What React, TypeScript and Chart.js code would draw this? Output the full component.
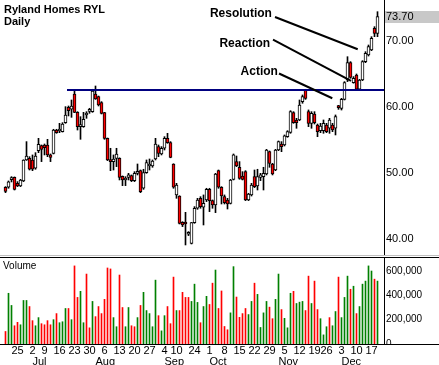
import React, { useEffect, useRef } from 'react';
import { Chart, registerables } from 'chart.js';

Chart.register(...registerables);

// ---- Ryland Homes (RYL) daily, Jun 19 – Dec 19 ----
const openPrices = [
  47.83, 47.83, 48.99, 49.34, 48.43, 48.03, 48.79, 51.97, 52.22, 51.97,
  50.71, 53.38, 54.14, 54.24, 54.24, 52.73, 52.98, 56.51, 56.36, 56.26,
  57.62, 59.95, 59.65, 61.97, 59.19, 57.02, 57.02, 58.79, 59.34, 59.29,
  61.97, 61.56, 60.66, 59.14, 55.25, 51.87, 51.72, 52.22, 52.22, 49.49,
  48.94, 49.34, 49.6, 48.84, 49.95, 50.35, 47.68, 50.05, 51.06, 51.06,
  52.12, 53.99, 52.88, 53.74, 55.25, 54.6, 51.36, 46.67, 46.51, 42.52,
  42.47, 40.71, 39.34, 42.47, 44.65, 46.16, 44.8, 45.91, 47.52, 45.81,
  45.15, 50.35, 47.83, 46.41, 45.91, 45.4, 49.04, 51.72, 50.86, 49.54,
  50.2, 45.91, 46.67, 49.44, 48.03, 49.34, 49.44, 49.85, 53.23, 51.36,
  50.45, 53.48, 54.39, 54.24, 55.5, 56.16, 59.14, 58.03, 58.03, 60.81,
  62.58, 59.29, 57.52, 58.94, 57.27, 56.41, 56.41, 57.27, 56.77, 57.27,
  56.77, 60.15, 59.8, 61.16, 64.09, 66.71, 63.68, 64.85, 62.68, 64.09,
  66.87, 67.88, 68.63, 71.92, 71.16,
];
const highPrices = [
  47.93, 48.79, 49.44, 49.4, 48.69, 49.04, 52.0, 54.75, 52.47, 52.73,
  53.08, 55.25, 54.24, 54.39, 55.1, 52.88, 56.62, 56.62, 57.52, 57.62,
  60.05, 60.15, 61.06, 62.58, 59.29, 58.53, 59.19, 59.29, 59.8, 62.68,
  63.18, 61.66, 60.81, 59.19, 55.3, 53.74, 52.73, 53.74, 52.3, 49.55,
  49.44, 49.95, 49.7, 50.2, 51.36, 50.45, 50.56, 51.97, 52.12, 51.97,
  55.25, 54.24, 53.99, 55.5, 56.01, 54.75, 51.4, 48.43, 46.55, 42.62,
  44.04, 41.11, 42.5, 44.9, 46.16, 46.41, 46.67, 47.68, 47.68, 45.91,
  49.95, 50.45, 47.93, 46.67, 46.16, 49.04, 52.88, 52.57, 51.72, 50.2,
  50.35, 46.92, 48.43, 50.45, 50.56, 49.95, 50.86, 53.58, 53.33, 51.46,
  53.58, 54.85, 54.75, 55.76, 56.41, 59.44, 59.29, 58.28, 61.06, 61.82,
  62.68, 59.55, 59.29, 59.29, 57.42, 57.52, 58.03, 57.52, 58.28, 57.52,
  58.79, 60.25, 61.31, 63.84, 67.62, 66.87, 64.6, 65.0, 64.19, 67.02,
  68.38, 69.39, 70.65, 72.17, 74.44,
];
const lowPrices = [
  47.02, 47.68, 48.64, 47.42, 47.93, 47.93, 48.69, 51.9, 50.45, 50.35,
  50.56, 53.08, 51.72, 52.73, 52.47, 51.72, 52.88, 56.01, 56.11, 56.2,
  57.52, 58.64, 58.43, 59.14, 56.51, 55.1, 56.92, 58.28, 59.04, 59.19,
  61.15, 60.15, 58.94, 55.1, 51.87, 50.35, 50.45, 50.96, 48.94, 48.08,
  48.08, 48.94, 48.69, 48.69, 49.7, 47.02, 47.52, 49.95, 50.45, 50.86,
  51.97, 52.47, 52.73, 53.48, 54.49, 52.3, 47.68, 46.16, 42.27, 41.87,
  39.09, 40.51, 39.24, 42.37, 44.49, 44.65, 42.12, 45.66, 44.14, 44.65,
  43.99, 47.68, 45.3, 45.3, 44.54, 45.3, 48.94, 50.96, 49.04, 48.94,
  45.81, 45.81, 46.51, 47.78, 47.42, 48.84, 47.42, 49.7, 50.86, 49.7,
  50.35, 53.38, 53.23, 54.09, 55.4, 56.01, 57.52, 56.77, 57.93, 60.56,
  61.15, 57.02, 56.77, 57.42, 55.5, 56.11, 56.01, 56.11, 56.01, 56.26,
  55.76, 59.64, 59.54, 61.06, 63.84, 64.34, 63.6, 62.57, 62.57, 63.99,
  66.71, 67.72, 68.53, 70.65, 70.65,
];
const closePrices = [
  47.22, 48.64, 49.09, 47.52, 48.03, 48.94, 51.97, 52.57, 50.56, 50.56,
  52.57, 54.34, 53.58, 53.84, 52.73, 52.37, 56.51, 56.11, 56.62, 57.42,
  58.79, 59.44, 60.15, 59.19, 57.02, 57.27, 58.13, 58.89, 59.44, 62.42,
  61.21, 60.3, 59.04, 55.25, 51.97, 51.72, 52.12, 52.88, 49.34, 48.94,
  49.14, 49.7, 48.84, 49.95, 50.05, 47.17, 50.05, 51.56, 51.21, 51.82,
  54.39, 52.98, 53.74, 55.25, 54.6, 52.37, 47.83, 48.18, 42.37, 42.12,
  42.27, 40.81, 42.47, 44.65, 45.91, 44.9, 45.4, 47.52, 45.81, 45.15,
  49.85, 47.83, 46.51, 45.5, 45.3, 48.94, 52.73, 51.06, 49.19, 49.04,
  45.91, 46.82, 48.18, 47.93, 49.44, 49.7, 49.95, 53.48, 51.46, 49.85,
  53.48, 54.75, 53.99, 55.61, 56.26, 59.29, 57.62, 57.62, 60.3, 61.56,
  61.31, 57.52, 59.04, 57.62, 56.26, 57.12, 57.52, 56.26, 58.03, 56.51,
  58.53, 59.9, 61.16, 63.68, 66.71, 64.49, 64.34, 62.68, 64.09, 66.87,
  68.13, 69.14, 70.4, 71.16, 73.7,
];
const volumes = [
  103000, 417000, 317000, 150000, 178000, 158000, 358000, 358000, 308000, 192000,
  150000, 217000, 167000, 158000, 192000, 158000, 200000, 250000, 175000, 183000,
  292000, 292000, 200000, 642000, 383000, 433000, 175000, 575000, 133000, 350000,
  225000, 308000, 250000, 367000, 625000, 617000, 217000, 142000, 567000, 300000,
  142000, 300000, 150000, 142000, 217000, 317000, 425000, 275000, 250000, 142000,
  525000, 233000, 108000, 233000, 308000, 167000, 550000, 275000, 275000, 425000,
  383000, 383000, 350000, 492000, 342000, 175000, 308000, 392000, 325000, 500000,
  608000, 292000, 436000, 144000, 117000, 256000, 636000, 386000, 219000, 250000,
  292000, 242000, 350000, 500000, 408000, 136000, 256000, 350000, 303000, 208000,
  367000, 575000, 283000, 211000, 133000, 417000, 433000, 333000, 344000, 350000,
  275000, 558000, 333000, 517000, 283000, 208000, 75000, 142000, 217000, 150000,
  267000, 550000, 217000, 383000, 558000, 450000, 475000, 250000, 308000, 492000,
  517000, 642000, 600000, 533000, 517000,
];
// 1 = up-volume (green), 0 = down-volume (red)
const volumeUp = [
  0, 1, 1, 0, 0, 1, 1, 1, 0, 0,
  1, 1, 0, 0, 0, 0, 1, 0, 1, 1,
  1, 0, 1, 0, 0, 1, 1, 0, 0, 1,
  0, 0, 0, 0, 0, 0, 1, 1, 0, 0,
  1, 1, 0, 0, 1, 0, 1, 1, 1, 1,
  1, 0, 1, 1, 0, 0, 0, 1, 0, 0,
  0, 0, 1, 1, 1, 0, 1, 1, 0, 0,
  1, 0, 0, 0, 0, 1, 1, 0, 0, 0,
  0, 1, 1, 0, 1, 1, 1, 1, 0, 0,
  1, 1, 0, 1, 1, 1, 0, 1, 1, 1,
  0, 0, 1, 0, 0, 1, 1, 1, 0, 1,
  1, 0, 1, 1, 1, 0, 1, 0, 1, 1,
  1, 1, 1, 0, 1,
];

const dayTickIndex = [4, 9, 13, 18, 23, 28, 33, 38, 43, 48, 53, 57, 63, 68, 73, 78, 83, 88, 93, 98, 103, 107, 112, 117, 122];
const dayTickLabels = ['25', '2', '9', '16', '23', '30', '6', '13', '20', '27', '4', '10', '24', '1', '8', '15', '22', '29', '5', '12', '19', '26', '3', '10', '17'];
const monthTickIndex = [9, 30, 53, 68, 91, 112];
const monthTickLabels = ['Jul', 'Aug', 'Sep', 'Oct', 'Nov', 'Dec'];
const priceTicks = [40, 50, 60, 70];
const volumeTicks = [0, 200000, 400000, 600000];

const resistanceLevel = 62.57;
const resistanceStartIndex = 20.5;

const annotations = [
  { label: 'Resolution', tx: 88.8, ty: 74.09, x1: 89.83, y1: 73.63, x2: 117.4, y2: 68.74 },
  { label: 'Reaction', tx: 88.2, ty: 69.54, x1: 89.17, y1: 70.21, x2: 115.17, y2: 63.94 },
  { label: 'Action', tx: 90.8, ty: 65.3, x1: 91.17, y1: 65.07, x2: 108.93, y2: 61.32 },
];

const FONT = '"Liberation Sans", Arial, sans-serif';
const X_MIN = -5.5 / 3;
const X_MAX = X_MIN + 128;

export default function App() {
  const priceRef = useRef<HTMLCanvasElement>(null);
  const volRef = useRef<HTMLCanvasElement>(null);

  useEffect(() => {
    Chart.defaults.font.family = FONT;
    const n = closePrices.length;
    const idx = closePrices.map((_, i) => i);
    const lastClose = closePrices[n - 1];

    const pricePlugin = {
      id: 'priceDecor',
      beforeDraw(chart: any) {
        const { ctx, chartArea, scales } = chart;
        const y = scales.y.getPixelForValue(lastClose);
        ctx.save();
        ctx.fillStyle = '#c8c8c8';
        ctx.fillRect(chartArea.right + 1, Math.round(y) - 6, chart.width - chartArea.right - 1, 12);
        ctx.restore();
      },
      afterDatasetsDraw(chart: any) {
        const { ctx, scales } = chart;
        ctx.save();
        ctx.fillStyle = '#000';
        ctx.font = `bold 11px ${FONT}`;
        ctx.textAlign = 'left';
        ctx.textBaseline = 'alphabetic';
        ctx.fillText('Ryland Homes RYL', 4, 13);
        ctx.fillText('Daily', 4, 25);
        ctx.font = `bold 12px ${FONT}`;
        ctx.textAlign = 'right';
        ctx.textBaseline = 'middle';
        annotations.forEach((a) => {
          ctx.fillText(a.label, scales.x.getPixelForValue(a.tx), scales.y.getPixelForValue(a.ty));
        });
        ctx.restore();
      },
    };

    const priceChart = new Chart(priceRef.current as HTMLCanvasElement, {
      type: 'bar',
      data: {
        datasets: [
          ...annotations.map((a) => ({
            type: 'line' as const,
            data: [{ x: a.x1, y: a.y1 }, { x: a.x2, y: a.y2 }],
            borderColor: '#000',
            borderWidth: 2,
            pointRadius: 0,
          })),
          {
            type: 'line' as const,
            data: [{ x: resistanceStartIndex, y: resistanceLevel }, { x: X_MAX, y: resistanceLevel }],
            borderColor: '#000080',
            borderWidth: 2,
            pointRadius: 0,
          },
          {
            type: 'bar' as const,
            data: idx.map((i) => ({ x: i, y: [Math.min(openPrices[i], closePrices[i]), Math.max(openPrices[i], closePrices[i])] })),
            backgroundColor: idx.map((i) => (closePrices[i] < openPrices[i] ? '#ff0000' : '#ffffff')),
            borderColor: '#000',
            borderWidth: 1,
            borderSkipped: false,
            barThickness: 3,
            grouped: false,
            minBarLength: 2,
          },
          {
            type: 'bar' as const,
            data: idx.map((i) => ({ x: i, y: [lowPrices[i], highPrices[i]] })),
            backgroundColor: '#000',
            borderWidth: 0,
            barThickness: 1,
            grouped: false,
          },
        ],
      } as any,
      options: {
        responsive: false,
        animation: false,
        events: [],
        devicePixelRatio: 1,
        layout: { padding: 0 },
        plugins: { legend: { display: false }, tooltip: { enabled: false } },
        scales: {
          x: { type: 'linear', min: X_MIN, max: X_MAX, display: false, offset: false, grid: { offset: false } },
          y: {
            position: 'right',
            min: 37.57,
            max: 76.21,
            grid: { display: false, drawTicks: false },
            border: { display: true, color: '#000', width: 1 },
            ticks: {
              color: '#000',
              font: { size: 11 },
              padding: 2,
              callback: (v: any) => Number(v).toFixed(2),
            },
            afterBuildTicks: (s: any) => {
              s.ticks = [...priceTicks, lastClose].map((v) => ({ value: v }));
            },
            afterFit: (s: any) => {
              s.width = 55;
              s.paddingTop = 0;
              s.paddingBottom = 0;
            },
          },
        },
      } as any,
      plugins: [pricePlugin],
    });

    const volPlugin = {
      id: 'volDecor',
      afterDraw(chart: any) {
        const { ctx, chartArea } = chart;
        const w = chart.width;
        ctx.save();
        ctx.fillStyle = '#ffffff';
        ctx.fillRect(chartArea.right + 1, chartArea.bottom + 1, w - chartArea.right - 1, 6);
        ctx.fillStyle = '#c0c0c0';
        ctx.fillRect(0, 0, w, 1);
        ctx.fillStyle = '#000';
        ctx.fillRect(0, 2, w, 1);
        ctx.fillRect(0, Math.round(chartArea.bottom), w, 1);
        ctx.font = `10px ${FONT}`;
        ctx.textAlign = 'left';
        ctx.textBaseline = 'middle';
        ctx.fillText('Volume', 3, 11);
        ctx.restore();
      },
    };

    const xCommon = (weight: number, height: number) => ({
      type: 'linear',
      min: X_MIN,
      max: X_MAX,
      position: 'bottom',
      offset: false,
      weight,
      grid: { display: false, drawTicks: false, offset: false },
      border: { display: false },
      afterFit: (s: any) => {
        s.height = height;
        s.paddingLeft = 0;
        s.paddingRight = 0;
      },
    });

    const volChart = new Chart(volRef.current as HTMLCanvasElement, {
      type: 'bar',
      data: {
        datasets: [
          {
            data: idx.map((i) => ({ x: i, y: volumes[i] })),
            backgroundColor: idx.map((i) => (volumeUp[i] ? '#008000' : '#ff0000')),
            borderWidth: 0,
            barThickness: 1,
            grouped: false,
            xAxisID: 'x',
            yAxisID: 'y',
          },
        ],
      } as any,
      options: {
        responsive: false,
        animation: false,
        events: [],
        devicePixelRatio: 1,
        layout: { padding: { top: 3, left: 0, right: 0, bottom: 0 } },
        plugins: { legend: { display: false }, tooltip: { enabled: false } },
        scales: {
          x: {
            ...xCommon(0, 11),
            ticks: {
              autoSkip: false, maxRotation: 0, minRotation: 0, padding: 0, color: '#000',
              font: { size: 11 },
              callback: (v: any) => {
                const k = dayTickIndex.indexOf(Number(v));
                return k >= 0 ? dayTickLabels[k] : '';
              },
            },
            afterBuildTicks: (s: any) => {
              s.ticks = dayTickIndex.map((v) => ({ value: v }));
            },
          },
          xm: {
            ...xCommon(1, 10),
            ticks: {
              autoSkip: false, maxRotation: 0, minRotation: 0, padding: 0, color: '#000', align: 'start',
              font: { size: 11 },
              callback: (v: any) => {
                const k = monthTickIndex.indexOf(Number(v));
                return k >= 0 ? monthTickLabels[k] : '';
              },
            },
            afterBuildTicks: (s: any) => {
              s.ticks = monthTickIndex.map((v) => ({ value: v }));
            },
          },
          y: {
            position: 'right',
            min: 0,
            max: 707000,
            grid: { display: false, drawTicks: false },
            border: { display: true, color: '#000', width: 1 },
            ticks: {
              color: '#000',
              font: { size: 10 },
              padding: 2,
              callback: (v: any) => Number(v).toLocaleString('en-US'),
            },
            afterBuildTicks: (s: any) => {
              s.ticks = volumeTicks.map((v) => ({ value: v }));
            },
            afterFit: (s: any) => {
              s.width = 55;
              s.paddingTop = 0;
              s.paddingBottom = 0;
            },
          },
        },
      } as any,
      plugins: [volPlugin],
    });

    return () => {
      priceChart.destroy();
      volChart.destroy();
    };
  }, []);

  return (
    <div style={{ position: 'absolute', left: 0, top: 0, width: 439, height: 365, background: '#ffffff' }}>
      <canvas ref={priceRef} width={439} height={255} style={{ position: 'absolute', left: 0, top: 0 }} />
      <canvas ref={volRef} width={439} height={110} style={{ position: 'absolute', left: 0, top: 255 }} />
    </div>
  );
}
